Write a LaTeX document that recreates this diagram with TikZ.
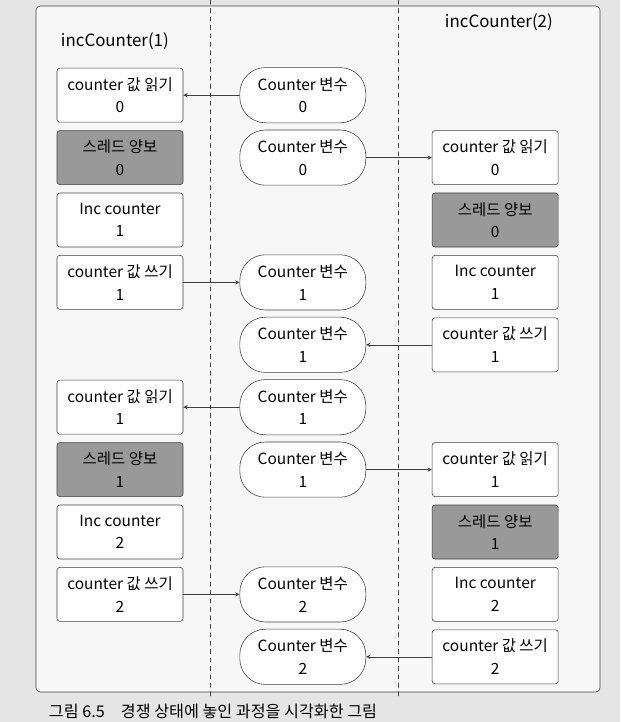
\documentclass[tikz,border=0pt]{standalone}
\usepackage{fontspec}
\setmainfont{Noto Sans CJK KR}
\begin{document}
\begin{tikzpicture}[>=stealth, line join=round, line cap=round,
	font=\fontsize{11}{16}\selectfont,
	box/.style={draw=black!75, fill=white, rounded corners=2pt, minimum width=3.15cm, minimum height=1.35cm, align=center, inner sep=2pt},
	gbox/.style={box, fill=black!40},
	var/.style={draw=black!75, fill=white, rounded corners=0.64cm, minimum width=3.15cm, minimum height=1.38cm, align=center, inner sep=2pt},
	link/.style={->, draw=black!75, thin}]
	\def\xl{3.0} \def\xm{7.57} \def\xr{12.38} % cột
	\useasboundingbox (0,0) rectangle (15.5,-18.05);
	\fill[black!10] (0,0) rectangle (15.5,-18.05);
	\draw[black!75, fill=black!3, rounded corners=3pt] (0.9,-0.15) rectangle (15.0,-17.3);
	\draw[black!75, dashed] (5.25,0)--(5.25,-17.5);
	\draw[black!75, dashed] (9.95,0)--(9.95,-17.5);
	\node[anchor=west, font=\fontsize{12}{14}\selectfont] (t1) at (1.4,-1.03) {incCounter(1)};
	\node[anchor=west, font=\fontsize{12}{14}\selectfont] (t2) at (11.0,-0.55) {incCounter(2)};
	% incCounter(1)
	\node[box] (L1) at (\xl,-2.38) {counter 값 읽기\\0};
	\node[gbox] (L2) at (\xl,-3.94) {스레드 양보\\0};
	\node[box] (L3) at (\xl,-5.50) {Inc counter\\1};
	\node[box] (L4) at (\xl,-7.06) {counter 값 쓰기\\1};
	\node[box] (L5) at (\xl,-10.18) {counter 값 읽기\\1};
	\node[gbox] (L6) at (\xl,-11.74) {스레드 양보\\1};
	\node[box] (L7) at (\xl,-13.30) {Inc counter\\2};
	\node[box] (L8) at (\xl,-14.86) {counter 값 쓰기\\2};
	% Counter 변수
	\node[var] (M1) at (\xm,-2.38) {Counter 변수\\0};
	\node[var] (M2) at (\xm,-3.94) {Counter 변수\\0};
	\node[var] (M3) at (\xm,-7.06) {Counter 변수\\1};
	\node[var] (M4) at (\xm,-8.62) {Counter 변수\\1};
	\node[var] (M5) at (\xm,-10.18) {Counter 변수\\1};
	\node[var] (M6) at (\xm,-11.74) {Counter 변수\\1};
	\node[var] (M7) at (\xm,-14.86) {Counter 변수\\2};
	\node[var] (M8) at (\xm,-16.42) {Counter 변수\\2};
	% incCounter(2)
	\node[box] (R1) at (\xr,-3.94) {counter 값 읽기\\0};
	\node[gbox] (R2) at (\xr,-5.50) {스레드 양보\\0};
	\node[box] (R3) at (\xr,-7.06) {Inc counter\\1};
	\node[box] (R4) at (\xr,-8.62) {counter 값 쓰기\\1};
	\node[box] (R5) at (\xr,-11.74) {counter 값 읽기\\1};
	\node[gbox] (R6) at (\xr,-13.30) {스레드 양보\\1};
	\node[box] (R7) at (\xr,-14.86) {Inc counter\\2};
	\node[box] (R8) at (\xr,-16.42) {counter 값 쓰기\\2};
	\draw[link] (M1)--(L1);
	\draw[link] (M2)--(R1);
	\draw[link] (L4)--(M3);
	\draw[link] (R4)--(M4);
	\draw[link] (M5)--(L5);
	\draw[link] (M6)--(R5);
	\draw[link] (L8)--(M7);
	\draw[link] (R8)--(M8);
	\node[anchor=west, font=\fontsize{11.5}{14}\selectfont] (cap) at (1.1,-17.78) {그림 6.5\quad 경쟁 상태에 놓인 과정을 시각화한 그림};
\end{tikzpicture}
\end{document}
